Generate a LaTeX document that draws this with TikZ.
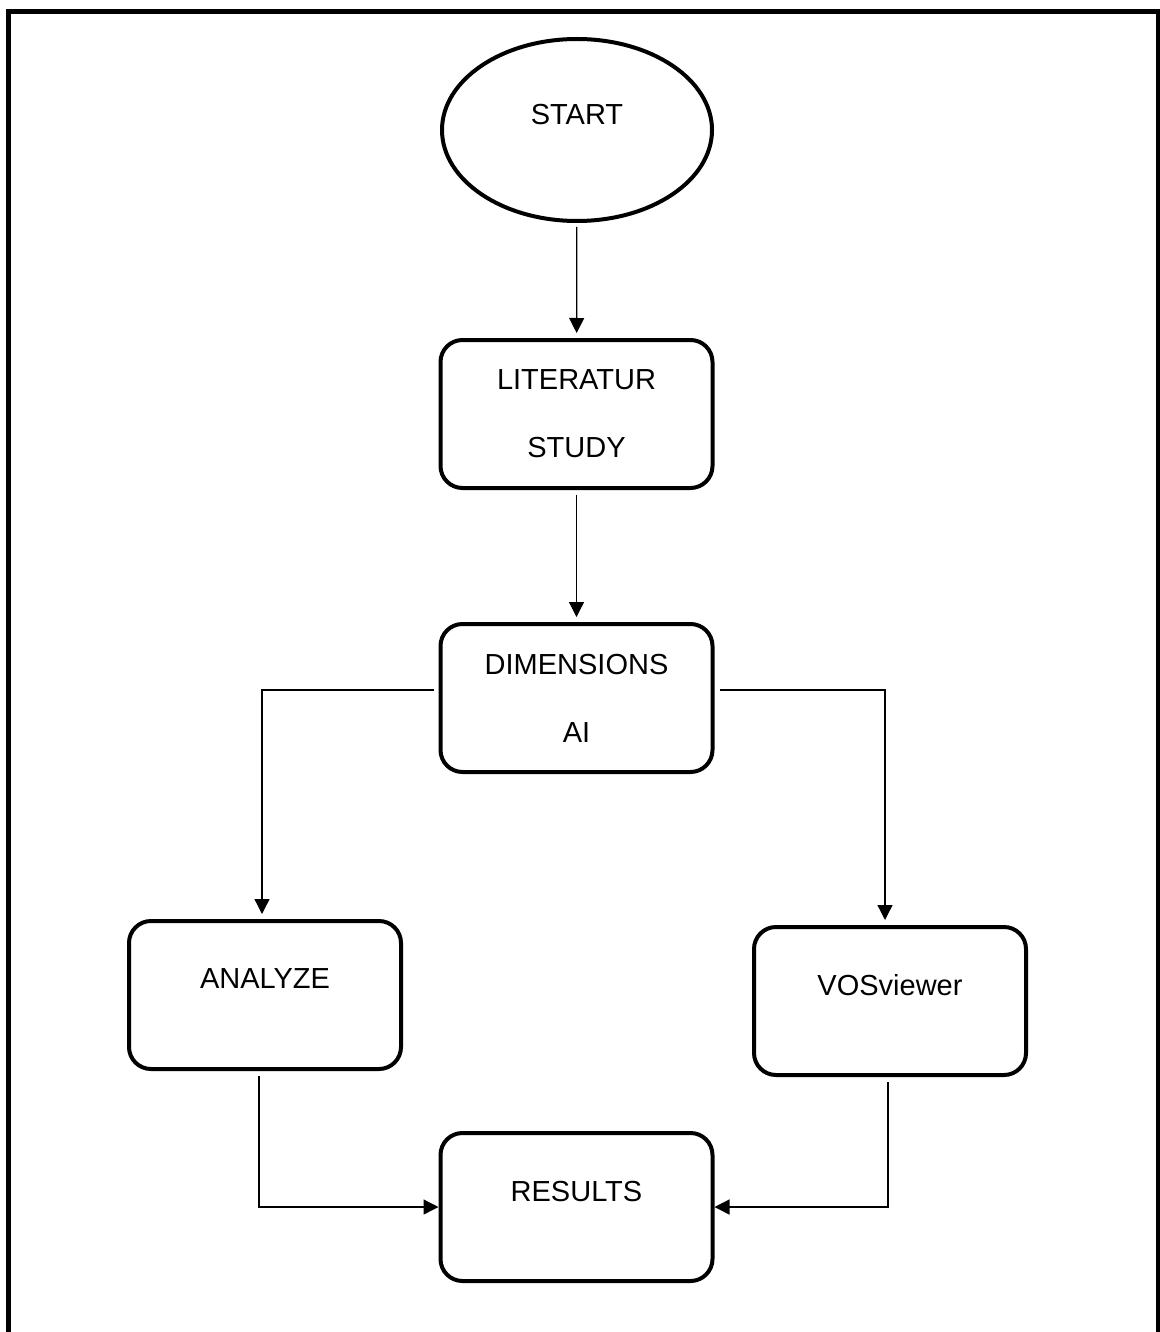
\documentclass[tikz,border=0pt]{standalone}
\usepackage{fontspec}
\setmainfont{Liberation Sans}
\usetikzlibrary{arrows.meta,shapes.geometric}

\begin{document}
\begin{tikzpicture}[x=0.5pt, y=-0.5pt,
	stepbox/.style={draw, line width=2pt, rounded corners=11pt, minimum width=136pt, minimum height=74pt, align=center, outer sep=3.5pt, font={\fontsize{14.5}{34}\selectfont}},
	oval/.style={draw, ellipse, line width=2pt, minimum width=135pt, minimum height=91pt, inner sep=0pt, outer sep=3pt, font={\fontsize{14.5}{34}\selectfont}},
	upper/.style={text depth=16pt},
	arr/.style={line width=0.65pt, -{Triangle[length=7.5pt,width=7.5pt]}}]
	\useasboundingbox (0,0) rectangle (1160,1332);
	\draw[line width=2.5pt] (8.5,1332) -- (8.5,11.5) -- (1158.5,11.5) -- (1158.5,1332);

	\node (start) at (577,130) [oval, upper]{START};
	\node (lit) at (576.5,414) [stepbox]{LITERATUR\\STUDY};
	\node (dim) at (576.5,698) [stepbox]{DIMENSIONS\\AI};
	\node (analyze) at (265,995) [stepbox, upper]{ANALYZE};
	\node (vos) at (890,1001) [stepbox, upper]{VOSviewer};
	\node (results) at (576.5,1207) [stepbox, upper, outer sep=1pt]{RESULTS};

	\draw[arr] (start) -- (lit);
	\draw[arr] (lit) -- (dim);
	\draw[arr] ([yshift=4pt]dim.west) -| ([xshift=-1.5pt]analyze.north);
	\draw[arr] ([yshift=4pt]dim.east) -| ([xshift=-2.5pt]vos.north);
	\draw[arr] ([xshift=-3pt]analyze.south) -- ++(0,63) |- (results.west);
	\draw[arr] ([xshift=-1pt]vos.south) |- (results.east);
\end{tikzpicture}
\end{document}
